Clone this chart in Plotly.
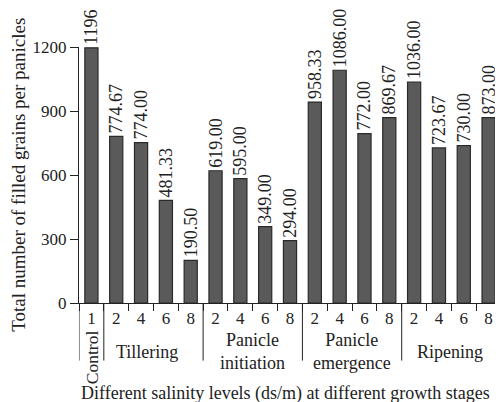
import plotly.graph_objects as go

categories = ["C1", "T2", "T4", "T6", "T8", "PI2", "PI4", "PI6", "PI8",
              "PE2", "PE4", "PE6", "PE8", "R2", "R4", "R6", "R8"]
tick_labels = ["1", "2", "4", "6", "8", "2", "4", "6", "8",
               "2", "4", "6", "8", "2", "4", "6", "8"]
bar_heights = [1196, 781, 752, 481, 200, 620, 583, 358, 292,
               942, 1091, 794, 869, 1036, 727, 738, 869]
bar_labels = ["1196", "774.67", "774.00", "481.33", "190.50", "619.00", "595.00",
              "349.00", "294.00", "958.33", "1086.00", "772.00", "869.67",
              "1036.00", "723.67", "730.00", "873.00"]
group_names = ["Tillering", "Panicle<br>initiation", "Panicle<br>emergence", "Ripening"]
group_centers = [2.25, 6.5, 10.5, 14.45]
group_bounds = [-0.5, 0.5, 4.5, 8.5, 12.5, 16.5]
y_ticks = [0, 300, 600, 900, 1200]

FONT = "Liberation Serif, Times New Roman, serif"
TXT = "#222222"

fig = go.Figure(go.Bar(
    x=categories, y=bar_heights, text=bar_labels,
    textposition="outside", textangle=-90, constraintext="none",
    cliponaxis=False, width=0.53,
    textfont=dict(family=FONT, size=18, color=TXT),
    marker=dict(color="#5a5a5a", line=dict(color="#2a2a2a", width=1.2)),
))

# page body has an 8px margin, so the figure is sized to fit inside it
fig.update_layout(
    width=495, height=394,
    margin=dict(l=71, r=2, t=39, b=99),
    plot_bgcolor="white", paper_bgcolor="white",
    showlegend=False,
    font=dict(family=FONT, color=TXT),
    xaxis=dict(type="category", range=[-0.5, 16.5], tickvals=categories,
               ticktext=tick_labels, tickson="boundaries", ticks="outside",
               ticklen=7, tickcolor="#222", showline=True, linecolor="#222",
               linewidth=1, showgrid=False, tickfont=dict(size=17, family=FONT, color=TXT),
               zeroline=False),
    yaxis=dict(range=[0, 1200], tickvals=y_ticks, ticks="outside", ticklen=8,
               tickcolor="#222", showline=True, linecolor="#222", linewidth=1,
               showgrid=False, zeroline=False,
               tickfont=dict(size=17, family=FONT, color=TXT)),
)

shapes = []
for b in group_bounds:
    shapes.append(dict(type="line", xref="x", yref="paper", x0=b, x1=b,
                       y0=0, y1=-0.225, line=dict(color="#222", width=1)))
fig.update_layout(shapes=shapes)

ann = [dict(text="Control", x=0, xref="x", y=-0.21, yref="paper",
            textangle=-90, showarrow=False, yanchor="middle",
            font=dict(size=17.5, family=FONT, color=TXT))]
for name, c in zip(group_names, group_centers):
    ann.append(dict(text=name, x=c, xref="x", y=-0.19, yref="paper",
                    showarrow=False, yanchor="middle",
                    font=dict(size=18, family=FONT, color=TXT)))
ann.append(dict(text="Different salinity levels (ds/m) at different growth stages",
                x=0.0, xref="paper", xanchor="left", y=-0.355, yref="paper",
                showarrow=False, yanchor="middle",
                font=dict(size=18, family=FONT, color=TXT)))
ann.append(dict(text="Total number of filled grains per panicles",
                x=-0.145, xref="paper", y=0.5, yref="paper", showarrow=False,
                textangle=-90, xanchor="center",
                font=dict(size=19, family=FONT, color=TXT)))
fig.update_layout(annotations=ann)

fig.write_html("out.html")
